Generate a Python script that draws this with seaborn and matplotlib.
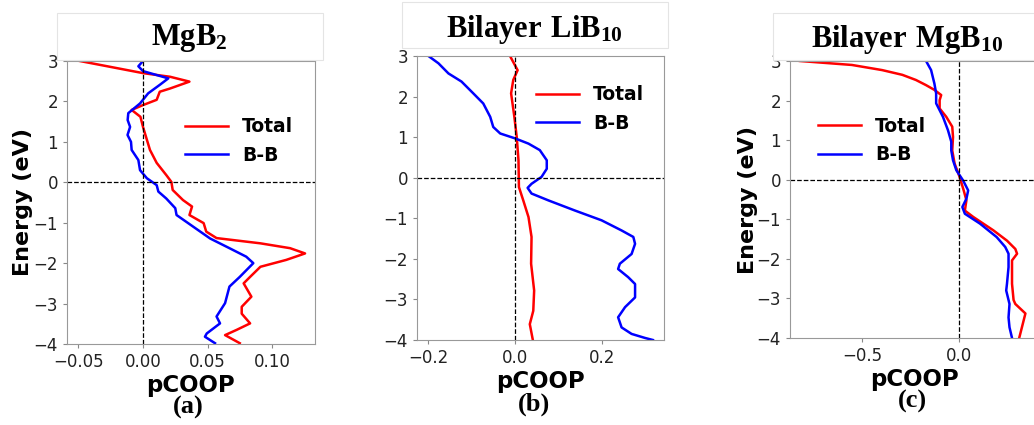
import pandas as pd
import matplotlib
matplotlib.use("Agg")
import matplotlib.pyplot as plt
import seaborn as sns
from matplotlib.patches import Rectangle

# ---- data (energy in eV, pCOOP) ----
mgb2_total_e = [3.0, 2.70, 2.61, 2.49, 2.32, 2.24, 2.04, 1.91, 1.79, 1.62, 1.37, 0.80, 0.48, 0.18,
                0.01, -0.19, -0.44, -0.60, -0.81, -1.01, -1.22, -1.38, -1.51, -1.63, -1.76, -1.92,
                -2.09, -2.34, -2.50, -2.83, -3.08, -3.25, -3.49, -3.65, -3.78, -3.98]
mgb2_total_v = [-0.049, 0.0, 0.021, 0.036, 0.021, 0.013, 0.0106, 0.0, -0.0088, -0.002, 0.0, 0.0054,
                0.0106, 0.018, 0.022, 0.023, 0.031, 0.038, 0.036, 0.047, 0.049, 0.057, 0.091, 0.114,
                0.1256, 0.111, 0.091, 0.083, 0.078, 0.084, 0.0765, 0.0765, 0.083, 0.0726, 0.0636, 0.075]
mgb2_bb_e = [3.0, 2.87, 2.75, 2.57, 2.41, 2.20, 1.95, 1.71, 1.54, 1.37, 1.17, 1.0, 0.80, 0.55, 0.30,
             0.10, -0.07, -0.23, -0.40, -0.64, -0.81, -1.10, -1.39, -1.63, -1.84, -2.0, -2.34, -2.58,
             -2.99, -3.32, -3.49, -3.74, -3.82, -3.98]
mgb2_bb_v = [0.0, -0.0036, 0.0, 0.0196, 0.013, 0.004, -0.0023, -0.0114, -0.0119, -0.010, -0.012,
             -0.0093, -0.0088, -0.0036, -0.0023, 0.003, 0.0106, 0.0119, 0.018, 0.025, 0.026, 0.039,
             0.052, 0.067, 0.080, 0.0855, 0.075, 0.067, 0.0636, 0.057, 0.0597, 0.0494, 0.048, 0.0558]

lib10_total_e = [3.0, 2.65, 2.41, 2.08, 1.5, 1.0, 0.43, -0.23, -0.56, -0.97, -1.46, -2.12, -2.78,
                 -3.28, -3.61, -4.0]
lib10_total_v = [-0.0115, 0.006, -0.004, -0.009, -0.0015, 0.004, 0.008, 0.009, 0.019, 0.031, 0.038,
                 0.037, 0.044, 0.042, 0.034, 0.041]
lib10_bb_e = [3.0, 2.82, 2.57, 2.37, 2.08, 1.83, 1.50, 1.25, 1.09, 0.97, 0.84, 0.68, 0.43, 0.22,
              0.02, -0.15, -0.25, -0.39, -0.56, -0.81, -1.05, -1.30, -1.46, -1.63, -1.88, -2.12,
              -2.25, -2.45, -2.62, -2.95, -3.19, -3.44, -3.69, -3.85, -3.95, -4.0]
lib10_bb_v = [-0.199, -0.176, -0.153, -0.123, -0.096, -0.073, -0.057, -0.050, -0.034, 0.0, 0.031,
              0.057, 0.073, 0.073, 0.061, 0.038, 0.029, 0.038, 0.077, 0.138, 0.199, 0.245, 0.272,
              0.276, 0.268, 0.241, 0.237, 0.260, 0.276, 0.276, 0.253, 0.237, 0.245, 0.268, 0.299, 0.317]

mgb10_total_e = [3.0, 2.9, 2.77, 2.65, 2.52, 2.39, 2.27, 2.14, 2.01, 1.80, 1.59, 1.34, 1.08, 0.74,
                 0.41, 0.07, -0.27, -0.52, -0.78, -0.94, -1.28, -1.54, -1.75, -1.87, -2.04, -2.63,
                 -3.04, -3.14, -3.38, -3.71, -4.0]
mgb10_total_v = [-0.82, -0.552, -0.396, -0.292, -0.222, -0.170, -0.127, -0.092, -0.10, -0.10, -0.066,
                 -0.035, -0.031, -0.035, -0.023, 0.003, 0.024, 0.038, 0.030, 0.073, 0.177, 0.247,
                 0.29, 0.299, 0.273, 0.273, 0.281, 0.29, 0.342, 0.325, 0.31]
mgb10_bb_e = [3.0, 2.77, 2.43, 2.18, 1.93, 1.59, 1.25, 0.96, 0.74, 0.49, 0.24, -0.02, -0.27, -0.48,
              -0.69, -0.86, -1.11, -1.45, -1.70, -1.87, -2.21, -2.63, -2.80, -3.14, -3.48, -3.73, -4.0]
mgb10_bb_v = [-0.170, -0.144, -0.127, -0.118, -0.118, -0.083, -0.057, -0.040, -0.040, -0.031,
              -0.014, 0.021, 0.047, 0.038, 0.017, 0.030, 0.108, 0.194, 0.238, 0.255, 0.255, 0.247,
              0.243, 0.260, 0.255, 0.260, 0.273]

panel_titles = [r"$\mathbf{MgB_2}$", r"$\mathbf{Bilayer\ LiB_{10}}$", r"$\mathbf{Bilayer\ MgB_{10}}$"]
panel_tags = ["(a)", "(b)", "(c)"]
series_names = ["Total", "B-B"]


def make_df(te, tv, be, bv):
    a = pd.DataFrame({"energy": te, "pcoop": tv, "series": "Total"})
    b = pd.DataFrame({"energy": be, "pcoop": bv, "series": "B-B"})
    return pd.concat([a, b], ignore_index=True)


frames = [make_df(mgb2_total_e, mgb2_total_v, mgb2_bb_e, mgb2_bb_v),
          make_df(lib10_total_e, lib10_total_v, lib10_bb_e, lib10_bb_v),
          make_df(mgb10_total_e, mgb10_total_v, mgb10_bb_e, mgb10_bb_v)]

plt.rcParams["mathtext.fontset"] = "custom"
plt.rcParams["mathtext.rm"] = "Liberation Serif"
plt.rcParams["mathtext.bf"] = "Liberation Serif:bold"

W, H = 1034, 425
fig = plt.figure(figsize=(W / 100, H / 100), dpi=100)

# axes boxes in pixels: left, top, right, bottom
boxes = [(67, 61, 315, 344), (417, 56, 664, 340), (790, 61, 1039, 338)]
xlims = [(-0.0589, 0.1333), (-0.2253, 0.3425), (-0.871, 0.412)]
xticks = [[-0.05, 0.0, 0.05, 0.10], [-0.2, 0.0, 0.2], [-0.5, 0.0]]
legend_anchor = [(0.446, 0.717), (0.45, 0.813), (0.081, 0.713)]
ylabel_right = [33, None, 758]
title_boxes = [(57, 13, 323, 60), (402, 2, 668, 48), (773, 13, 1040, 60)]
title_pos = [(189, 38), (534, 30), (907, 39)]
tag_pos = [(188, 407), (534, 404), (912, 401)]
palette = {"Total": "red", "B-B": "blue"}

for i, df in enumerate(frames):
    l, t, r, b = boxes[i]
    ax = fig.add_axes([l / W, 1 - b / H, (r - l) / W, (b - t) / H])
    sns.lineplot(data=df, x="pcoop", y="energy", hue="series", hue_order=series_names,
                 palette=palette, orient="y", estimator=None, lw=1.8, ax=ax)
    ax.axhline(0, color="black", ls="--", lw=0.9)
    ax.axvline(0, color="black", ls="--", lw=0.9)
    ax.set_xlim(*xlims[i])
    ax.set_ylim(-4, 3)
    ax.set_xticks(xticks[i])
    ax.set_yticks(range(-4, 4))
    ax.tick_params(labelsize=12, color="#888888", colors="#222222", length=3)
    for sp in ax.spines.values():
        sp.set_color("#999999")
    ax.set_xlabel("pCOOP", fontsize=16.5, fontweight="bold", labelpad=2)
    if ylabel_right[i] is None:
        ax.set_ylabel("")
    else:
        ax.set_ylabel("Energy (eV)", fontsize=16, fontweight="bold")
        ax.yaxis.set_label_coords((ylabel_right[i] - l) / (r - l), 0.5)
    leg = ax.legend(loc="center left", bbox_to_anchor=legend_anchor[i], frameon=False,
                    prop={"weight": "bold", "size": 13.5}, handlelength=2.3,
                    handletextpad=0.75, borderaxespad=0)
    for h in leg.get_lines():
        h.set_linewidth(1.8)

    bx0, by0, bx1, by1 = title_boxes[i]
    fig.patches.append(Rectangle((bx0 / W, 1 - by1 / H), (bx1 - bx0) / W, (by1 - by0) / H,
                                 transform=fig.transFigure, facecolor="white",
                                 edgecolor="#e4e4e4", lw=0.8, zorder=0))
    tx, ty = title_pos[i]
    fig.text(tx / W, 1 - ty / H, panel_titles[i], fontsize=22, ha="center", va="center")
    gx, gy = tag_pos[i]
    fig.text(gx / W, 1 - gy / H, panel_tags[i], fontsize=19, ha="center", va="center",
             family="Liberation Serif", fontweight="bold")

fig.savefig("out.png", dpi=100)
